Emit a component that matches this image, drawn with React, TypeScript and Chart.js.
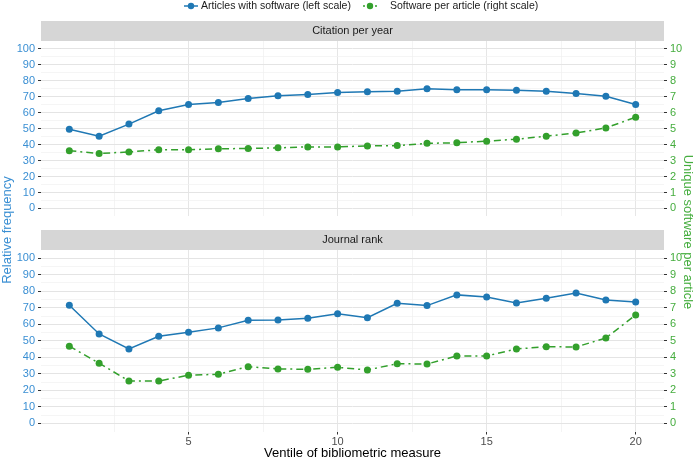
import React, { useEffect, useRef } from "react";
import { Chart, registerables } from "chart.js";
Chart.register(...registerables);

const ventiles = [1, 2, 3, 4, 5, 6, 7, 8, 9, 10, 11, 12, 13, 14, 15, 16, 17, 18, 19, 20];
const citationArticles = [49.7, 45.3, 52.9, 61.2, 65.2, 66.5, 68.9, 70.7, 71.5, 72.7, 73.1, 73.5, 75.0, 74.5, 74.5, 74.1, 73.5, 72.1, 70.3, 65.2];
const citationSoftware = [3.62, 3.45, 3.54, 3.68, 3.68, 3.74, 3.76, 3.8, 3.86, 3.86, 3.92, 3.94, 4.08, 4.12, 4.22, 4.34, 4.53, 4.73, 5.05, 5.72];
const rankArticles = [71.5, 54.1, 45.0, 52.7, 55.2, 57.8, 62.4, 62.6, 63.6, 66.4, 64.0, 72.7, 71.3, 77.8, 76.5, 72.9, 75.7, 79.0, 74.7, 73.5];
const rankSoftware = [4.67, 3.64, 2.56, 2.56, 2.91, 2.97, 3.43, 3.29, 3.27, 3.39, 3.23, 3.61, 3.59, 4.08, 4.08, 4.5, 4.64, 4.62, 5.17, 6.56];
const leftTicks = [0, 10, 20, 30, 40, 50, 60, 70, 80, 90, 100];
const rightTicks = [0, 1, 2, 3, 4, 5, 6, 7, 8, 9, 10];
const xTicks = [5, 10, 15, 20];
const xMinorTicks = [2.5, 7.5, 12.5, 17.5];
const panelTitles = ["Citation per year", "Journal rank"];
const seriesLabels = ["Articles with software (left scale)", "Software per article (right scale)"];
const leftTitle = "Relative frequency";
const rightTitle = "Unique software per article";
const xTitle = "Ventile of bibliometric measure";

const BLUE = "#1f78b4";
const GREEN = "#33a02c";
const BLUE_TXT = "#3a8fd3";
const GREEN_TXT = "#45ad3e";
const FONT = "'Liberation Sans', Arial, sans-serif";
const DASH = [7, 4, 2, 4];

function makePlugin(title: string, showLegend: boolean, showXTitle: boolean) {
  return {
    id: "decor",
    afterDraw(chart: any) {
      const { ctx, chartArea } = chart;
      ctx.save();
      // facet strip
      ctx.fillStyle = "#d6d6d6";
      ctx.fillRect(chartArea.left, chartArea.top - 20, chartArea.right - chartArea.left, 20);
      ctx.fillStyle = "#1a1a1a";
      ctx.font = `11px ${FONT}`;
      ctx.textAlign = "center";
      ctx.textBaseline = "middle";
      ctx.fillText(title, (chartArea.left + chartArea.right) / 2, chartArea.top - 10);
      if (showLegend) {
        ctx.font = `10.5px ${FONT}`;
        const y = 6;
        const items = [
          { c: BLUE, dash: [] as number[], x0: 184, x1: 198, tx: 201, t: seriesLabels[0] },
          { c: GREEN, dash: [2, 4], x0: 363, x1: 377, tx: 390, t: seriesLabels[1] },
        ];
        for (const it of items) {
          ctx.strokeStyle = it.c;
          ctx.lineWidth = 1.5;
          ctx.setLineDash(it.dash);
          ctx.beginPath();
          ctx.moveTo(it.x0, y);
          ctx.lineTo(it.x1, y);
          ctx.stroke();
          ctx.setLineDash([]);
          ctx.fillStyle = it.c;
          ctx.beginPath();
          ctx.arc((it.x0 + it.x1) / 2, y, 3.2, 0, Math.PI * 2);
          ctx.fill();
          ctx.fillStyle = "#1a1a1a";
          ctx.textAlign = "left";
          ctx.fillText(it.t, it.tx, y + 0.5);
        }
      }
      if (showXTitle) {
        ctx.fillStyle = "#000";
        ctx.font = `13px ${FONT}`;
        ctx.textAlign = "center";
        ctx.textBaseline = "middle";
        ctx.fillText(xTitle, (chartArea.left + chartArea.right) / 2, chartArea.bottom + 22);
      }
      ctx.restore();
    },
  };
}

function makeConfig(articles: number[], software: number[], title: string, first: boolean): any {
  const allX = [...xMinorTicks, ...xTicks].sort((a, b) => a - b);
  const leftAll: number[] = [];
  for (let v = 0; v <= 100; v += 5) leftAll.push(v);
  return {
    type: "line",
    data: {
      datasets: [
        {
          label: seriesLabels[0],
          data: ventiles.map((v, i) => ({ x: v, y: articles[i] })),
          yAxisID: "y",
          borderColor: BLUE,
          backgroundColor: BLUE,
          borderWidth: 1.5,
          pointRadius: 3.5,
          pointBorderWidth: 0,
          pointHoverRadius: 3.5,
          tension: 0,
        },
        {
          label: seriesLabels[1],
          data: ventiles.map((v, i) => ({ x: v, y: software[i] })),
          yAxisID: "y2",
          borderColor: GREEN,
          backgroundColor: GREEN,
          borderWidth: 1.5,
          borderDash: DASH,
          pointRadius: 3.5,
          pointBorderWidth: 0,
          pointHoverRadius: 3.5,
          tension: 0,
        },
      ],
    },
    options: {
      animation: false,
      responsive: false,
      events: [],
      layout: { padding: { top: first ? 41 : 24, left: 0, right: 0, bottom: 0 } },
      plugins: { legend: { display: false }, tooltip: { enabled: false } },
      scales: {
        x: {
          type: "linear",
          min: 0.05,
          max: 20.95,
          afterBuildTicks: (s: any) => {
            s.ticks = allX.map((v) => ({ value: v }));
          },
          afterFit: (s: any) => {
            s.height = first ? 4 : 30.5;
          },
          border: { display: false },
          grid: {
            color: (c: any) => (xTicks.includes(c.tick?.value) ? "#e6e6e6" : "#efefef"),
            lineWidth: (c: any) => (xTicks.includes(c.tick?.value) ? 1 : 0.7),
            drawTicks: !first,
            tickLength: 3,
            tickWidth: 1,
            tickColor: (c: any) => (xTicks.includes(c.tick?.value) ? "#333333" : "rgba(0,0,0,0)"),
          },
          ticks: {
            display: !first,
            autoSkip: false,
            maxRotation: 0,
            padding: 1,
            color: "#4d4d4d",
            font: { family: FONT, size: 11 },
            callback: (v: number) => (xTicks.includes(v) ? String(v) : ""),
          },
        },
        y: {
          position: "left",
          min: -5,
          max: 105,
          afterBuildTicks: (s: any) => {
            s.ticks = leftAll.map((v) => ({ value: v }));
          },
          afterFit: (s: any) => {
            s.width = 41;
          },
          border: { display: false },
          grid: {
            color: (c: any) => (leftTicks.includes(c.tick?.value) ? "#e4e4e4" : "#f0f0f0"),
            lineWidth: (c: any) => (leftTicks.includes(c.tick?.value) ? 1 : 0.7),
            tickLength: 3,
            tickWidth: 1,
            tickColor: (c: any) => (leftTicks.includes(c.tick?.value) ? "#333333" : "rgba(0,0,0,0)"),
          },
          ticks: {
            autoSkip: false,
            padding: 3,
            color: BLUE_TXT,
            font: { family: FONT, size: 11 },
            callback: (v: number) => (leftTicks.includes(v) ? String(v) : ""),
          },
        },
        y2: {
          position: "right",
          min: -0.5,
          max: 10.5,
          afterBuildTicks: (s: any) => {
            s.ticks = rightTicks.map((v) => ({ value: v }));
          },
          afterFit: (s: any) => {
            s.width = 32;
          },
          border: { display: false },
          grid: {
            drawOnChartArea: false,
            tickLength: 3,
            tickWidth: 1,
            tickColor: "#333333",
          },
          ticks: {
            autoSkip: false,
            padding: 3,
            color: GREEN_TXT,
            font: { family: FONT, size: 11 },
            callback: (v: number) => String(v),
          },
        },
      },
    },
    plugins: [makePlugin(title, first, !first)],
  };
}

export default function App() {
  const ref1 = useRef<HTMLCanvasElement>(null);
  const ref2 = useRef<HTMLCanvasElement>(null);
  useEffect(() => {
    document.body.style.margin = "0";
    const c1 = new Chart(ref1.current as HTMLCanvasElement, makeConfig(citationArticles, citationSoftware, panelTitles[0], true));
    const c2 = new Chart(ref2.current as HTMLCanvasElement, makeConfig(rankArticles, rankSoftware, panelTitles[1], false));
    return () => {
      c1.destroy();
      c2.destroy();
    };
  }, []);
  const titleBase: React.CSSProperties = {
    position: "absolute",
    width: 300,
    height: 16,
    lineHeight: "16px",
    textAlign: "center",
    fontFamily: FONT,
    fontSize: 13,
    whiteSpace: "nowrap",
  };
  return (
    <div style={{ position: "relative", width: 696, height: 462, background: "#fff", overflow: "hidden" }}>
      <canvas ref={ref1} width={696} height={226} style={{ position: "absolute", left: 0, top: 0, width: 696, height: 226 }} />
      <canvas ref={ref2} width={696} height={236} style={{ position: "absolute", left: 0, top: 226, width: 696, height: 236 }} />
      <div style={{ ...titleBase, left: 7 - 150, top: 230 - 8, color: BLUE_TXT, transform: "rotate(-90deg)" }}>{leftTitle}</div>
      <div style={{ ...titleBase, left: 688 - 150, top: 232 - 8, color: GREEN_TXT, transform: "rotate(90deg)" }}>{rightTitle}</div>
    </div>
  );
}
